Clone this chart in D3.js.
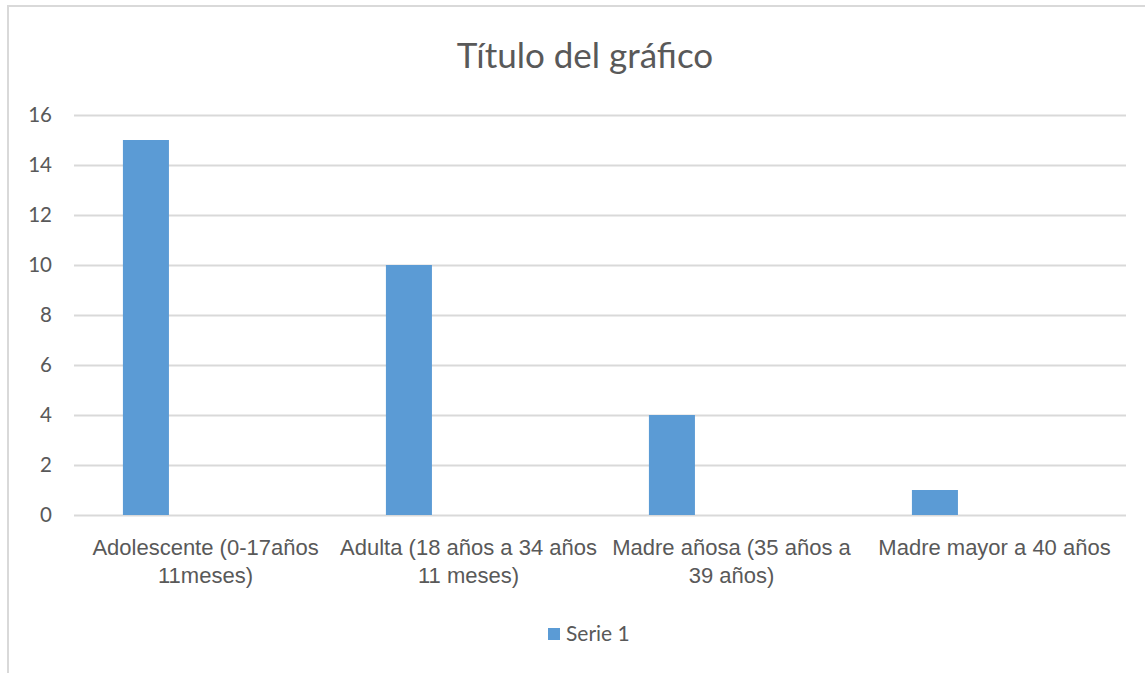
<!DOCTYPE html>
<html>
<head>
<meta charset="utf-8">
<script src="https://cdn.jsdelivr.net/npm/d3@7"></script>
<style>
  body { margin: 0; background: #fff; }
  svg { font-family: Lato, "Open Sans", sans-serif; }
</style>
</head>
<body>
<svg></svg>
<script>
// datos
var categorias = ["Adolescente (0-17años 11meses)", "Adulta (18 años a 34 años 11 meses)", "Madre añosa (35 años a 39 años)", "Madre mayor a 40 años"]
var etiquetas = [
  ["Adolescente (0-17años", "11meses)"],
  ["Adulta (18 años a 34 años", "11 meses)"],
  ["Madre añosa (35 años a", "39 años)"],
  ["Madre mayor a 40 años"]
]
var serie1 = [15, 10, 4, 1]
var yTicks = [0, 2, 4, 6, 8, 10, 12, 14, 16]

var svg = d3.select('svg')
  .attr('width', 1145)
  .attr('height', 673)

// borde del gráfico
svg.append('rect')
  .attr('x', 8).attr('y', 6)
  .attr('width', 1150).attr('height', 680)
  .attr('fill', 'none')
  .attr('stroke', '#d9d9d9')
  .attr('stroke-width', 2)

// escalas
var x = d3.scaleBand()
  .domain(categorias)
  .range([74, 1126])
var yScale = d3.scaleLinear()
  .domain([0, 16])
  .range([515, 115])

// líneas de cuadrícula (eje y)
var yAxis = d3.axisLeft(yScale)
  .tickValues(yTicks)
  .tickSize(-(1126 - 74))
  .tickPadding(22)
svg.append('g')
  .attr('transform', 'translate(74,0)')
  .call(yAxis)
  .call(g => g.select('.domain').remove())
  .call(g => g.selectAll('line').attr('stroke', '#d9d9d9').attr('stroke-width', 2))
  .call(g => g.selectAll('text')
    .attr('fill', '#595959')
    .style('font-size', '20.5px')
    .style('font-family', 'Lato, sans-serif'))

// barras
svg.append('g')
  .selectAll('rect')
  .data(serie1)
  .enter()
  .append('rect')
  .attr('x', (d, i) => x(categorias[i]) + x.bandwidth() * 0.186)
  .attr('width', x.bandwidth() * 0.175)
  .attr('y', d => yScale(d))
  .attr('height', d => yScale(0) - yScale(d))
  .attr('fill', '#5b9bd5')

// etiquetas eje x
var xAxis = d3.axisBottom(x).tickSize(0).tickFormat('')
var gx = svg.append('g')
  .attr('transform', 'translate(0,515)')
  .call(xAxis)
gx.select('.domain').remove()
gx.selectAll('.tick').each(function(d, i) {
  var t = d3.select(this).append('text')
    .attr('fill', '#595959')
    .attr('text-anchor', 'middle')
    .style('font-size', '22px')
  etiquetas[i].forEach(function(linea, j) {
    t.append('tspan')
      .attr('x', 0)
      .attr('y', 40 + j * 28)
      .text(linea)
  })
})

// título
svg.append('text')
  .attr('x', 585)
  .attr('y', 68)
  .attr('text-anchor', 'middle')
  .attr('fill', '#595959')
  .style('font-size', '35px')
  .text('Título del gráfico')

// leyenda
svg.append('rect')
  .attr('x', 548).attr('y', 628)
  .attr('width', 12).attr('height', 12)
  .attr('fill', '#5b9bd5')
svg.append('text')
  .attr('x', 566)
  .attr('y', 641)
  .attr('fill', '#595959')
  .style('font-size', '21px')
  .text('Serie 1')
</script>
</body>
</html>
